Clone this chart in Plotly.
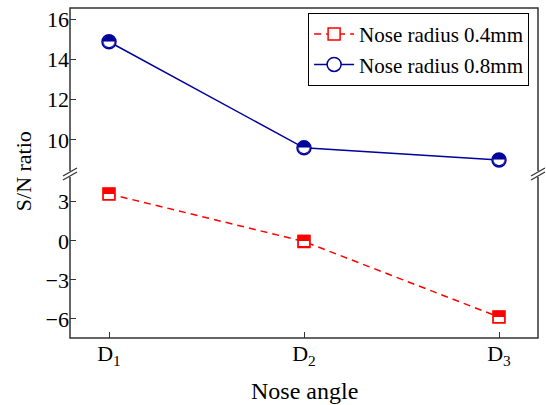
import plotly.graph_objects as go

categories = [0, 1, 2]
tick_labels = ["D<sub>1</sub>", "D<sub>2</sub>", "D<sub>3</sub>"]
sn_04 = [3.6, -0.05, -5.85]
sn_08 = [14.88, 9.6, 9.0]
low_ticks = [-6, -3, 0, 3]
high_ticks = [10, 12, 14, 16]

RED = "#FF0000"
BLUE = "#00009C"
FONT = "Liberation Serif"
AX = "#333333"

fig = go.Figure()

fig.add_trace(go.Scatter(
    x=categories, y=sn_04, mode="lines+markers", name="Nose radius 0.4mm",
    line=dict(color=RED, width=1.5, dash="7px,5px"),
    marker=dict(symbol="square", size=12, color="white", line=dict(color=RED, width=1.5)),
    xaxis="x", yaxis="y"))
fig.add_trace(go.Scatter(
    x=categories, y=sn_04, mode="text", text=["\u2B12"] * 3, showlegend=False,
    textposition="middle center", textfont=dict(color=RED, size=16, family="DejaVu Sans"),
    hoverinfo="skip", xaxis="x", yaxis="y"))

fig.add_trace(go.Scatter(
    x=categories, y=sn_08, mode="lines+markers", name="Nose radius 0.8mm",
    line=dict(color=BLUE, width=1.5),
    marker=dict(symbol="circle", size=14, color="white", line=dict(color=BLUE, width=1.5)),
    xaxis="x", yaxis="y2"))
fig.add_trace(go.Scatter(
    x=categories, y=sn_08, mode="text", text=["\u25D3"] * 3, showlegend=False,
    textposition="middle center", textfont=dict(color=BLUE, size=17, family="DejaVu Sans"),
    hoverinfo="skip", xaxis="x", yaxis="y2"))

split = 0.497
tickstyle = dict(ticks="inside", ticklen=6, tickwidth=1.2, tickcolor=AX, showgrid=False,
                 zeroline=False, showline=False, tickfont=dict(family=FONT, size=22, color="black"))

fig.update_layout(
    width=546, height=405,
    margin=dict(l=70, r=8, t=8, b=67),
    plot_bgcolor="white", paper_bgcolor="white",
    showlegend=True,
    legend=dict(x=0.981, y=0.985, xanchor="right", yanchor="top",
                bordercolor="black", borderwidth=1, bgcolor="white",
                font=dict(family=FONT, size=21, color="black"),
                tracegroupgap=0, itemwidth=40),
    xaxis=dict(range=[-0.2, 2.2], tickvals=categories, ticktext=tick_labels, anchor="y", **tickstyle),
    yaxis=dict(domain=[0, split], range=[-7.46, 5.13], tickvals=low_ticks, anchor="x", **tickstyle),
    yaxis2=dict(domain=[split, 1], range=[8.3, 16.56], tickvals=high_ticks, anchor="x", **tickstyle),
)

shapes = [dict(type="rect", xref="paper", yref="paper", x0=0, x1=1, y0=0, y1=1,
               line=dict(color=AX, width=1.5), fillcolor="rgba(0,0,0,0)", layer="above")]
for xa in (0, 1):
    shapes.append(dict(type="line", xref="paper", yref="paper", xsizemode="pixel", ysizemode="pixel",
                       xanchor=xa, yanchor=split, x0=0, x1=0, y0=-3, y1=3,
                       line=dict(color="white", width=3), layer="above"))
    for off in (-2, 2):
        shapes.append(dict(type="line", xref="paper", yref="paper", xsizemode="pixel", ysizemode="pixel",
                           xanchor=xa, yanchor=split, x0=-7, x1=7, y0=off - 4, y1=off + 4,
                           line=dict(color=AX, width=1.2), layer="above"))
fig.update_layout(shapes=shapes)

fig.add_annotation(text="S/N ratio", xref="paper", yref="paper", x=-0.100, y=0.506,
                   textangle=-90, showarrow=False, xanchor="center", yanchor="middle",
                   font=dict(family=FONT, size=22, color="black"))
fig.add_annotation(text="Nose angle", xref="paper", yref="paper", x=0.5, y=-0.16,
                   showarrow=False, xanchor="center", yanchor="middle",
                   font=dict(family=FONT, size=24, color="black"))

fig.write_html("out.html")
